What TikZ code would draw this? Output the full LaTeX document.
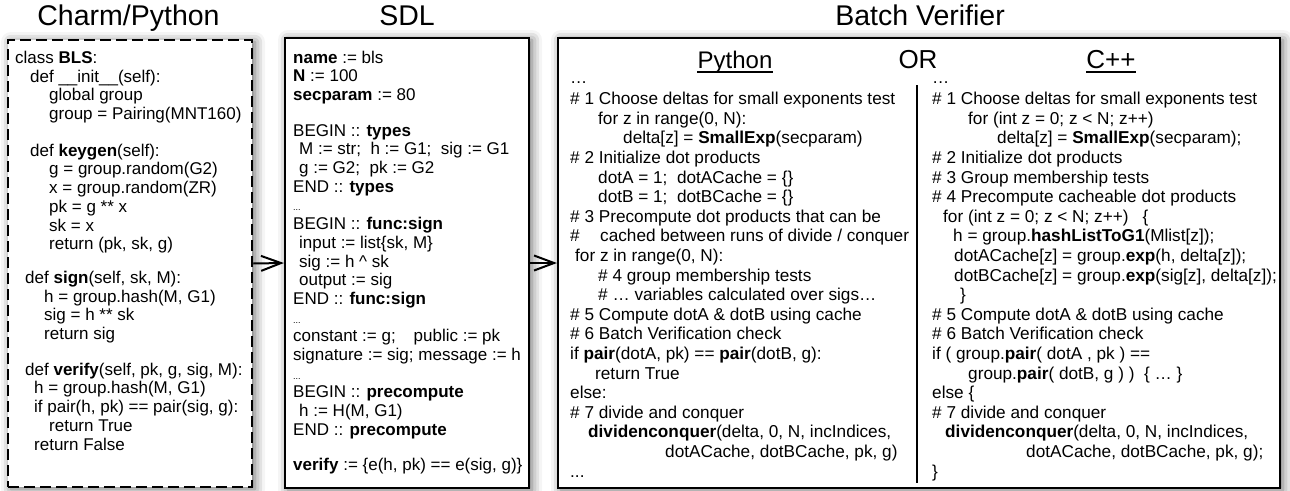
\documentclass[tikz,border=0pt]{standalone}
\usepackage{fontspec}
\setmainfont{Liberation Sans}
\usetikzlibrary{arrows.meta,shadows.blur}
\tikzset{
  codebox/.style={draw=black, line width=2.2pt, fill=white, rectangle, inner sep=0pt,
    blur shadow={shadow xshift=3pt, shadow yshift=-2pt, shadow blur radius=10pt, shadow opacity=60}},
  dashbox/.style={codebox, line width=2.5pt, dash pattern=on 11pt off 5pt},
  code/.style={anchor=base west, inner sep=0pt, align=left, font=\fontsize{17}{18.7}\selectfont},
  bcode/.style={code, font=\fontsize{17.2}{19.6}\selectfont},
  title/.style={font=\fontsize{28.5}{30}\selectfont, anchor=base, inner sep=0pt},
  sub/.style={font=\fontsize{24}{26}\selectfont, anchor=base, inner sep=0pt},
  arr/.style={line width=2pt, -{Straight Barb[length=20pt,width=15pt,line width=2pt]}},
}
\begin{document}
\begin{tikzpicture}[x=1pt,y=-1pt]
\useasboundingbox (0,0) rectangle (1290,490);
% titles
\node[title] (t1) at (128.5,25) {Charm/Python};
\node[title] (t2) at (407,25) {SDL};
\node[title] (t3) at (920,25) {Batch Verifier};
% boxes
\node[dashbox, minimum width=244pt, minimum height=447pt] (charm) at (130,263.5) {};
\node[codebox, minimum width=244pt, minimum height=450pt] (sdl) at (407,263) {};
\node[codebox, minimum width=722pt, minimum height=450pt] (batch) at (919,263) {};
% arrows
\draw[arr] (charm.east) -- (sdl.west);
\draw[arr] (sdl.east) -- (batch.west);
% sub headers
\node[sub] (pyt) at (735,68) {Python};
\node[font=\fontsize{26}{28}\selectfont, anchor=base, inner sep=0pt] (ort) at (918,68) {OR};
\node[font=\fontsize{26}{28}\selectfont, anchor=base, inner sep=0pt] (cppt) at (1111,68) {C++};
\draw[line width=1.3pt] ([yshift=-4pt]pyt.base west) -- ([yshift=-4pt]pyt.base east);
\draw[line width=1.3pt] ([yshift=-4pt]cppt.base west) -- ([yshift=-4pt]cppt.base east);
\coordinate (dtop) at (917,85);
\coordinate (dbot) at (917,483);
\draw[line width=2pt] (dtop) -- (dbot);
% Charm code (anchored at last baseline)
\node[code] (charmcode) at (15,450) {class \textbf{BLS}:\\
\hspace*{15pt}def \_\_init\_\_(self):\\
\hspace*{34pt}global group\\
\hspace*{34pt}group = Pairing(MNT160)\\[18pt]
\hspace*{15pt}def \textbf{keygen}(self):\\
\hspace*{34pt}g = group.random(G2)\\
\hspace*{34pt}x = group.random(ZR)\\
\hspace*{34pt}pk = g ** x\\
\hspace*{34pt}sk = x\\
\hspace*{34pt}return (pk, sk, g)\\[15pt]
\hspace*{10pt}def \textbf{sign}(self, sk, M):\\
\hspace*{29pt}h = group.hash(M, G1)\\
\hspace*{29pt}sig = h ** sk\\
\hspace*{29pt}return sig\\[17pt]
\hspace*{10pt}def \textbf{verify}(self, pk, g, sig, M):\\
\hspace*{19pt}h = group.hash(M, G1)\\
\hspace*{19pt}if pair(h, pk) == pair(sig, g):\\
\hspace*{34pt}return True\\
\hspace*{19pt}return False};
% SDL code
\node[code] (sdlcode) at (293,470) {\textbf{name} := bls\\
\textbf{N} := 100\\
\textbf{secparam} := 80\\[17pt]
BEGIN :: \textbf{types}\\
\hspace*{6pt}M := str;\ \ h := G1;\ \ sig := G1\\
\hspace*{6pt}g := G2;\ \ pk := G2\\
END :: \textbf{types}\\
{\fontsize{9}{9}\selectfont ...}\\
BEGIN :: \textbf{func:sign}\\
\hspace*{6pt}input := list\{sk, M\}\\
\hspace*{6pt}sig := h \textasciicircum\ sk\\
\hspace*{6pt}output := sig\\
END :: \textbf{func:sign}\\
{\fontsize{9}{9}\selectfont ...}\\
constant := g;\hspace{18pt}public := pk\\
signature := sig; message := h\\
{\fontsize{9}{9}\selectfont ...}\\
BEGIN :: \textbf{precompute}\\
\hspace*{6pt}h := H(M, G1)\\
END :: \textbf{precompute}\\[16pt]
\textbf{verify} := \{e(h, pk) == e(sig, g)\}};
% Python code
\node[bcode] (pycode) at (570,477) {…\\[2pt]
\# 1 Choose deltas for small exponents test\\
\hspace*{28pt}for z in range(0, N):\\
\hspace*{53pt}delta[z] = \textbf{SmallExp}(secparam)\\
\# 2 Initialize dot products\\
\hspace*{28pt}dotA = 1;\ \ dotACache = \{\}\\
\hspace*{28pt}dotB = 1;\ \ dotBCache = \{\}\\
\# 3 Precompute dot products that can be\\
\makebox[30pt][l]{\#}cached between runs of divide / conquer\\
\hspace*{5pt}for z in range(0, N):\\
\hspace*{28pt}\# 4 group membership tests\\
\hspace*{28pt}\# … variables calculated over sigs…\\
\# 5 Compute dotA \& dotB using cache\\
\# 6 Batch Verification check\\
if \textbf{pair}(dotA, pk) == \textbf{pair}(dotB, g):\\
\hspace*{25pt}return True\\
else:\\
\# 7 divide and conquer\\
\hspace*{18pt}\textbf{dividenconquer}(delta, 0, N, incIndices,\\
\hspace*{95pt}dotACache, dotBCache, pk, g)\\
...};
% C++ code
\node[bcode] (cppcode) at (932,477) {…\\[2pt]
\# 1 Choose deltas for small exponents test\\
\hspace*{36pt}for (int z = 0; z < N; z++)\\
\hspace*{65pt}delta[z] = \textbf{SmallExp}(secparam);\\
\# 2 Initialize dot products\\
\# 3 Group membership tests\\
\# 4 Precompute cacheable dot products\\
\hspace*{11pt}for (int z = 0; z < N; z++)\hspace{14pt}\{\\
\hspace*{21pt}h = group.\textbf{hashListToG1}(Mlist[z]);\\
\hspace*{22pt}dotACache[z] = group.\textbf{exp}(h, delta[z]);\\
\hspace*{22pt}dotBCache[z] = group.\textbf{exp}(sig[z], delta[z]);\\
\hspace*{28pt}\}\\
\# 5 Compute dotA \& dotB using cache\\
\# 6 Batch Verification check\\
if ( group.\textbf{pair}( dotA , pk ) ==\\
\hspace*{36pt}group.\textbf{pair}( dotB, g ) )\ \ \{ … \}\\
else \{\\
\# 7 divide and conquer\\
\hspace*{13pt}\textbf{dividenconquer}(delta, 0, N, incIndices,\\
\hspace*{94pt}dotACache, dotBCache, pk, g);\\
\}};
\end{tikzpicture}
\end{document}
